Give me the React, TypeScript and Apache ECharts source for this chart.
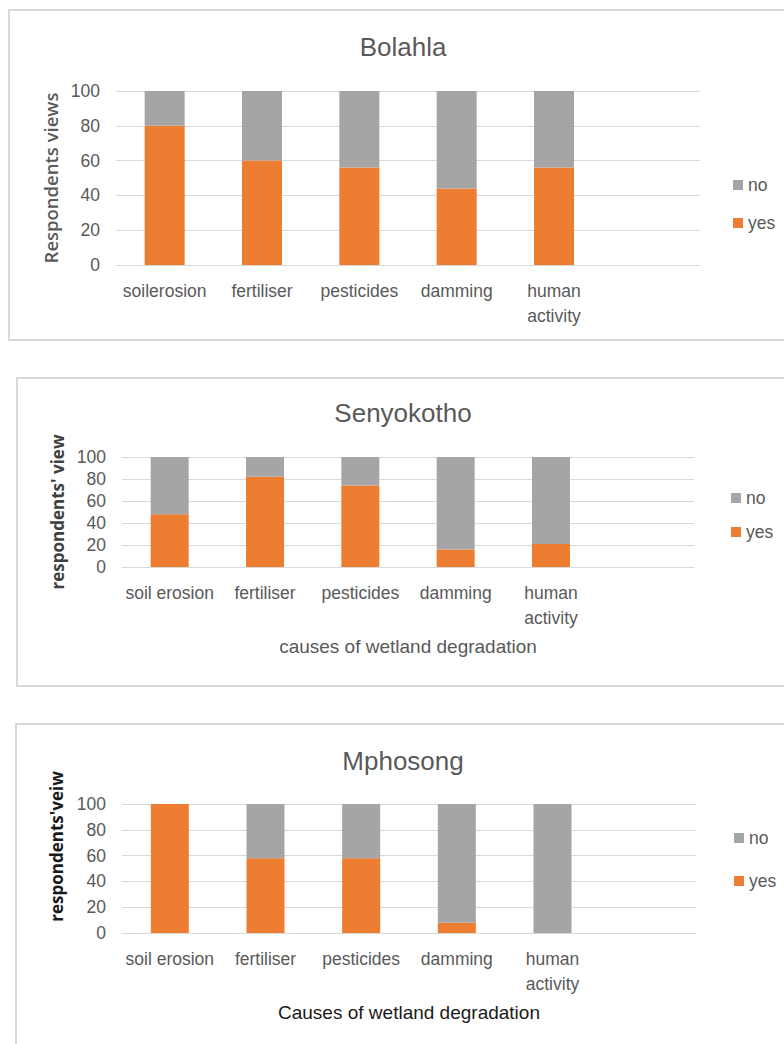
import React, { useEffect, useRef } from "react";
import * as echarts from "echarts";

// Causes of wetland degradation — share of respondents answering yes / no, per site
const causesBolahla = ["soilerosion", "fertiliser", "pesticides", "damming", "human\nactivity", ""];
const causesOther = ["soil erosion", "fertiliser", "pesticides", "damming", "human\nactivity", ""];

const bolahlaYes = [80, 60, 56, 44, 56];
const bolahlaNo = [20, 40, 44, 56, 44];

const senyokothoYes = [48, 82, 74, 16, 21];
const senyokothoNo = [52, 18, 26, 84, 79];

const mphosongYes = [100, 58, 58, 8, 0];
const mphosongNo = [0, 42, 42, 92, 100];

const yTicks = { min: 0, max: 100, interval: 20 };

const ORANGE = "#ED7D31";
const GRAY = "#A5A5A5";
const TEXT = "#595959";
const GRID = "#D9D9D9";
const FONT = "'Liberation Sans', Arial, sans-serif";
const NAME_FONT = "'Open Sans', 'Liberation Sans', sans-serif";

type Panel = {
  title: string;
  titleTop: number;
  categories: string[];
  yes: number[];
  no: number[];
  grid: { left: number; right: number; top: number; height: number };
  barWidth: number;
  yName: string;
  yNameGap: number;
  yNameSize: number;
  yNameColor: string;
  yNameWeight: number | string;
  yNamePadding: number[];
  xName: string;
  xNameColor: string;
  legendTop: number;
  legendLeft: number;
  legendGap: number;
  box: { x: number; y: number; height: number };
};

const panels: Panel[] = [
  {
    title: "Bolahla",
    titleTop: 34,
    categories: causesBolahla,
    yes: bolahlaYes,
    no: bolahlaNo,
    grid: { left: 116, right: 84, top: 91, height: 174 },
    barWidth: 40,
    yName: "Respondents views",
    yNameGap: 56,
    yNameSize: 18.5,
    yNameColor: TEXT,
    yNameWeight: 600,
    yNamePadding: [0, 0, 0, 0],
    xName: "",
    xNameColor: TEXT,
    legendTop: 175,
    legendLeft: 733,
    legendGap: 18,
    box: { x: 9, y: 10, height: 330 },
  },
  {
    title: "Senyokotho",
    titleTop: 400,
    categories: causesOther,
    yes: senyokothoYes,
    no: senyokothoNo,
    grid: { left: 122, right: 90, top: 457, height: 110 },
    barWidth: 38,
    yName: "respondents' view",
    yNameGap: 55,
    yNameSize: 17,
    yNameColor: "#404040",
    yNameWeight: "bold",
    yNamePadding: [0, 0, 0, 0],
    xName: "causes of wetland degradation",
    xNameColor: TEXT,
    legendTop: 488,
    legendLeft: 731,
    legendGap: 14,
    box: { x: 17, y: 378, height: 308 },
  },
  {
    title: "Mphosong",
    titleTop: 748,
    categories: causesOther,
    yes: mphosongYes,
    no: mphosongNo,
    grid: { left: 122, right: 88, top: 804, height: 129 },
    barWidth: 38,
    yName: "respondents'veiw",
    yNameGap: 57,
    yNameSize: 17,
    yNameColor: "#1a1a1a",
    yNameWeight: "bold",
    yNamePadding: [0, 0, 0, 44],
    xName: "Causes of wetland degradation",
    xNameColor: "#1a1a1a",
    legendTop: 828,
    legendLeft: 734,
    legendGap: 23,
    box: { x: 16, y: 724, height: 400 },
  },
];

function buildOption() {
  return {
    animation: false,
    backgroundColor: "#ffffff",
    graphic: panels.map((p) => ({
      type: "rect",
      silent: true,
      z: -10,
      shape: { x: p.box.x, y: p.box.y, width: 900, height: p.box.height },
      style: { fill: "#ffffff", stroke: GRID, lineWidth: 2 },
    })),
    title: panels.map((p) => ({
      text: p.title,
      left: 403,
      top: p.titleTop,
      textAlign: "center",
      padding: 0,
      textStyle: { color: TEXT, fontSize: 26, fontWeight: "normal", fontFamily: FONT },
    })),
    legend: panels.map((p) => ({
      data: ["no", "yes"],
      orient: "vertical",
      left: p.legendLeft,
      top: p.legendTop,
      padding: 0,
      itemGap: p.legendGap,
      itemWidth: 10,
      itemHeight: 10,
      icon: "rect",
      selectedMode: false,
      textStyle: { color: TEXT, fontSize: 17.5, fontFamily: FONT, lineHeight: 20 },
    })),
    grid: panels.map((p) => ({ ...p.grid, containLabel: false })),
    xAxis: panels.map((p, i) => ({
      type: "category",
      gridIndex: i,
      data: p.categories,
      name: p.xName,
      nameLocation: "middle",
      nameGap: 70,
      nameTextStyle: { color: p.xNameColor, fontSize: 19, fontFamily: FONT },
      axisLine: { show: true, lineStyle: { color: GRID, width: 1 } },
      axisTick: { show: false },
      axisLabel: {
        interval: 0,
        color: TEXT,
        fontSize: 17.5,
        fontFamily: FONT,
        lineHeight: 25,
        margin: 13,
      },
    })),
    yAxis: panels.map((p, i) => ({
      type: "value",
      gridIndex: i,
      min: yTicks.min,
      max: yTicks.max,
      interval: yTicks.interval,
      name: p.yName,
      nameLocation: "middle",
      nameRotate: 90,
      nameGap: p.yNameGap,
      nameTextStyle: {
        color: p.yNameColor,
        fontSize: p.yNameSize,
        fontWeight: p.yNameWeight,
        fontFamily: NAME_FONT,
        padding: p.yNamePadding,
      },
      axisLine: { show: false },
      axisTick: { show: false },
      splitLine: { lineStyle: { color: GRID, width: 1 } },
      axisLabel: { color: TEXT, fontSize: 17.5, fontFamily: FONT, margin: 16 },
    })),
    series: panels.flatMap((p, i) => [
      {
        name: "yes",
        type: "bar",
        stack: "site" + i,
        xAxisIndex: i,
        yAxisIndex: i,
        barWidth: p.barWidth,
        itemStyle: { color: ORANGE },
        data: p.yes,
      },
      {
        name: "no",
        type: "bar",
        stack: "site" + i,
        xAxisIndex: i,
        yAxisIndex: i,
        barWidth: p.barWidth,
        itemStyle: { color: GRAY },
        data: p.no,
      },
    ]),
  };
}

export default function App() {
  const ref = useRef<HTMLDivElement>(null);

  useEffect(() => {
    if (!ref.current) return;
    const chart = echarts.init(ref.current, undefined, { renderer: "svg" });
    chart.setOption(buildOption() as any);
    return () => chart.dispose();
  }, []);

  return (
    <div
      ref={ref}
      style={{ position: "absolute", left: 0, top: 0, width: 784, height: 1044 }}
    />
  );
}
